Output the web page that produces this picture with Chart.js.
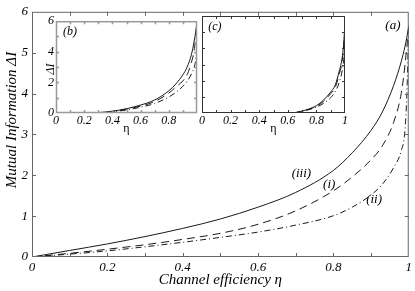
<!DOCTYPE html>
<html>
<head>
<meta charset="utf-8">
<script src="https://cdn.jsdelivr.net/npm/chart.js@4"></script>
<style>
  html, body { margin: 0; padding: 0; background: #fff; }
  #wrap { position: relative; width: 415px; height: 291px; }
  canvas { position: absolute; }
</style>
</head>
<body>
<div id="wrap">
  <canvas id="mainChart" width="415" height="291" style="left:0;top:0"></canvas>
  <canvas id="insetB" width="172" height="126" style="left:30px;top:12px"></canvas>
  <canvas id="insetC" width="153" height="127" style="left:198px;top:11px"></canvas>
</div>
<script>
// panel (a): channel efficiency vs mutual information
const etaA = [0, 0.1, 0.2, 0.3, 0.4, 0.5, 0.6, 0.7, 0.8, 0.85, 0.9, 0.93, 0.96, 0.98, 0.99, 0.995, 1];
const aIII = [0, 0.16, 0.32, 0.5, 0.7, 0.93, 1.22, 1.58, 2.12, 2.55, 3.1, 3.55, 4.2, 4.78, 5.15, 5.38, 5.65];
const aI   = [0, 0.09, 0.19, 0.3, 0.43, 0.58, 0.8, 1.13, 1.62, 1.96, 2.38, 2.72, 3.3, 4.0, 4.7, 5.15, 5.65];
const aII  = [0, 0.07, 0.15, 0.25, 0.36, 0.48, 0.61, 0.78, 1.01, 1.22, 1.52, 1.78, 2.19, 2.6, 3.1, 4.0, 5.6];

// inset (b)
const etaB = [0.27, 0.4, 0.5, 0.6, 0.7, 0.8, 0.85, 0.9, 0.93, 0.96, 0.98, 0.99, 1];
const bIII = [0, 0.12, 0.28, 0.52, 0.85, 1.45, 1.9, 2.5, 3.0, 3.8, 4.7, 5.3, 5.9];
const bI   = [0, 0.1, 0.25, 0.45, 0.75, 1.3, 1.7, 2.1, 2.5, 3.3, 4.1, 4.9, 5.9];
const bII  = [0, 0.08, 0.2, 0.38, 0.62, 1.05, 1.35, 1.75, 2.06, 2.55, 3.0, 3.4, 4.2];

// inset (c)
const etaC = [0.64, 0.7, 0.8, 0.85, 0.9, 0.93, 0.96, 0.98, 0.99, 1];
const cIII = [0, 0.12, 0.45, 0.8, 1.3, 1.7, 2.6, 3.4, 4.2, 5.6];
const cI   = [0, 0.11, 0.42, 0.72, 1.2, 1.55, 2.4, 3.2, 4.0, 5.5];
const cII  = [0, 0.1, 0.36, 0.6, 0.95, 1.3, 1.9, 2.6, 3.2, 4.5];

// tick marks (drawn inward on all four sides)
const xMarks = [0.1, 0.2, 0.3, 0.4, 0.5, 0.6, 0.7, 0.8, 0.9];
const yMarks = [1, 2, 3, 4, 5];

const serif = "'Liberation Serif', 'Times New Roman', serif";
const ink = "#1a1a1a";

const pts = (xs, ys) => xs.map((x, i) => ({ x, y: ys[i] }));

function curves(xs, iii, i, ii) {
  const base = { borderColor: ink, borderWidth: 1, pointRadius: 0, fill: false, cubicInterpolationMode: "monotone" };
  return [
    { ...base, label: "(iii)", data: pts(xs, iii) },
    { ...base, label: "(i)", data: pts(xs, i), borderDash: [8, 5] },
    { ...base, label: "(ii)", data: pts(xs, ii), borderDash: [6, 3, 1, 3] },
  ];
}

// box + inward ticks + free text
const frame = {
  id: "frame",
  afterDatasetsDraw(chart, args, o) {
    const { ctx, chartArea: a, scales: { x, y } } = chart;
    ctx.save();
    ctx.strokeStyle = o.color;
    ctx.lineWidth = o.width;
    ctx.strokeRect(a.left + 0.5, a.top + 0.5, a.right - a.left - 1, a.bottom - a.top - 1);
    ctx.beginPath();
    xMarks.forEach(v => {
      const px = Math.round(x.getPixelForValue(v)) + 0.5;
      ctx.moveTo(px, a.bottom); ctx.lineTo(px, a.bottom - o.len);
      ctx.moveTo(px, a.top); ctx.lineTo(px, a.top + o.len);
    });
    yMarks.forEach(v => {
      const py = Math.round(y.getPixelForValue(v)) + 0.5;
      ctx.moveTo(a.left, py); ctx.lineTo(a.left + o.len, py);
      ctx.moveTo(a.right, py); ctx.lineTo(a.right - o.len, py);
    });
    ctx.stroke();

    ctx.fillStyle = "#000";
    ctx.textAlign = "center";
    ctx.textBaseline = "middle";
    (o.notes || []).forEach(n => {
      ctx.font = n.font;
      ctx.fillText(n.text, x.getPixelForValue(n.x), y.getPixelForValue(n.y));
    });
    if (o.yTitle) {
      ctx.translate(o.yTitle.px, o.yTitle.py);
      ctx.rotate(-Math.PI / 2);
      ctx.font = o.yTitle.font;
      ctx.fillText(o.yTitle.text, 0, 0);
    }
    ctx.restore();
  }
};

const fmt = v => String(+v.toFixed(1));

function makeChart(id, data, cfg) {
  return new Chart(document.getElementById(id), {
    type: "line",
    data: { datasets: data },
    plugins: [frame],
    options: {
      responsive: false,
      animation: false,
      events: [],
      layout: { padding: cfg.padding },
      scales: {
        x: {
          type: "linear", min: 0, max: 1,
          grid: { display: false, drawTicks: false }, border: { display: false },
          ticks: { stepSize: 0.2, color: "#000", padding: cfg.xPad, maxRotation: 0,
                   font: { family: serif, size: cfg.tickSize, style: "italic" },
                   callback: cfg.xLabel || fmt },
          title: { display: true, text: cfg.xTitle, color: "#000",
                   font: { family: serif, size: cfg.titleSize, style: cfg.titleStyle },
                   padding: { top: 0, bottom: cfg.titlePad } },
          afterFit: s => { s.height = cfg.xH; }
        },
        y: {
          min: 0, max: 6,
          grid: { display: false, drawTicks: false }, border: { display: false },
          ticks: { display: cfg.yTicks, stepSize: cfg.yStep, color: "#000", padding: cfg.yPad,
                   font: { family: serif, size: cfg.tickSize, style: "italic" } },
          afterFit: s => { s.width = cfg.yW; }
        }
      },
      plugins: {
        legend: { display: false },
        tooltip: { enabled: false },
        frame: cfg.frame
      }
    }
  });
}

// main panel (a)
makeChart("mainChart", curves(etaA, aIII, aI, aII), {
  padding: { top: 10, right: 4, left: 0, bottom: 0 },
  xH: 34, yW: 32, xPad: 3, yPad: 4, yStep: 1, yTicks: true,
  tickSize: 13, titleSize: 15, titleStyle: "italic", titlePad: 2,
  xTitle: "Channel efficiency η",
  frame: {
    color: "#666", width: 1, len: 4,
    notes: [
      { text: "(a)", x: 0.958, y: 5.67, font: `italic 13px ${serif}` },
      { text: "(iii)", x: 0.715, y: 2.05, font: `italic 13px ${serif}` },
      { text: "(i)", x: 0.789, y: 1.76, font: `italic 13px ${serif}` },
      { text: "(ii)", x: 0.908, y: 1.4, font: `italic 13px ${serif}` }
    ],
    yTitle: { text: "Mutual Information ΔI", px: 12, py: 120, font: `italic 15px ${serif}` }
  }
});

// inset (b)
makeChart("insetB", curves(etaB, bIII, bI, bII), {
  padding: { top: 5, right: 5, left: 0, bottom: 0 },
  xH: 25, yW: 26, xPad: 1, yPad: 2, yStep: 2, yTicks: true,
  tickSize: 12, titleSize: 12, titleStyle: "normal", titlePad: 2,
  xTitle: "η",
  xLabel: v => (v >= 1 ? "" : fmt(v)),
  frame: {
    color: "#999", width: 1.5, len: 3,
    notes: [{ text: "(b)", x: 0.1, y: 5.3, font: `italic 12px ${serif}` }],
    yTitle: { text: "ΔI", px: 21, py: 57, font: `italic 12px ${serif}` }
  }
});

// inset (c)
makeChart("insetC", curves(etaC, cIII, cI, cII), {
  padding: { top: 5, right: 6, left: 0, bottom: 0 },
  xH: 25, yW: 4, xPad: 1, yPad: 2, yStep: 2, yTicks: false,
  tickSize: 12, titleSize: 12, titleStyle: "normal", titlePad: 2,
  xTitle: "η",
  frame: {
    color: "#333", width: 1, len: 3,
    notes: [{ text: "(c)", x: 0.09, y: 5.3, font: `italic 12px ${serif}` }]
  }
});
</script>
</body>
</html>
